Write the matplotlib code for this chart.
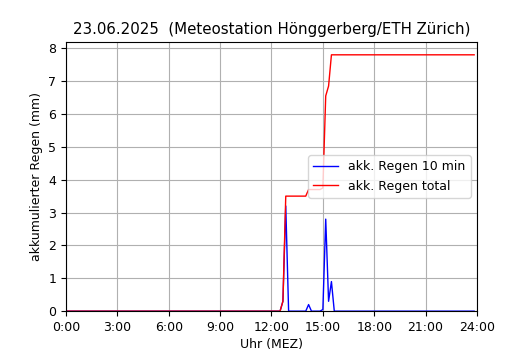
import matplotlib
matplotlib.use("Agg")
import matplotlib.pyplot as plt
import numpy as np

# 10-minute steps, 0:00 .. 23:50 (hours)
hours = np.arange(0, 24, 1 / 6)

# rain per 10 min (mm), only non-zero intervals listed
rain_times = ["12:40", "12:50", "14:10", "15:00", "15:10", "15:20", "15:30"]
rain_10min = [0.3, 3.2, 0.2, 0.05, 2.8, 0.3, 0.9]

# accumulated total (mm) at the same times, held until the next change
total_values = [0.3, 3.5, 3.7, 3.75, 6.55, 6.85, 7.8]

xtick_labels = ["0:00", "3:00", "6:00", "9:00", "12:00", "15:00",
                "18:00", "21:00", "24:00"]


def to_idx(t):
    h, m = t.split(":")
    return int(h) * 6 + int(m) // 10


r10 = np.zeros(len(hours))
tot = np.zeros(len(hours))
for t, v, s in zip(rain_times, rain_10min, total_values):
    i = to_idx(t)
    r10[i] = v
    tot[i:] = s

fig = plt.figure(figsize=(5.3, 3.5), dpi=100)
ax = fig.add_axes([0.1245, 0.111, 0.7755, 0.769])

ax.plot(hours, r10, color="b", lw=1.0, label="akk. Regen 10 min")
ax.plot(hours, tot, color="r", lw=1.0, label="akk. Regen total")

ax.set_xlim(0, 24)
ax.set_ylim(0, 8.19)
ax.set_xticks(np.arange(0, 25, 3))
ax.set_xticklabels(xtick_labels)
ax.tick_params(labelsize=9)
ax.grid(True, color="#b0b0b0", lw=0.8)
ax.set_xlabel("Uhr (MEZ)", fontsize=9, labelpad=3)
ax.set_ylabel("akkumulierter Regen (mm)", fontsize=9)
ax.set_title("23.06.2025  (Meteostation Hönggerberg/ETH Zürich)", fontsize=10.8)
ax.legend(loc="center right", fontsize=9)

fig.savefig("out.png", dpi=100)
